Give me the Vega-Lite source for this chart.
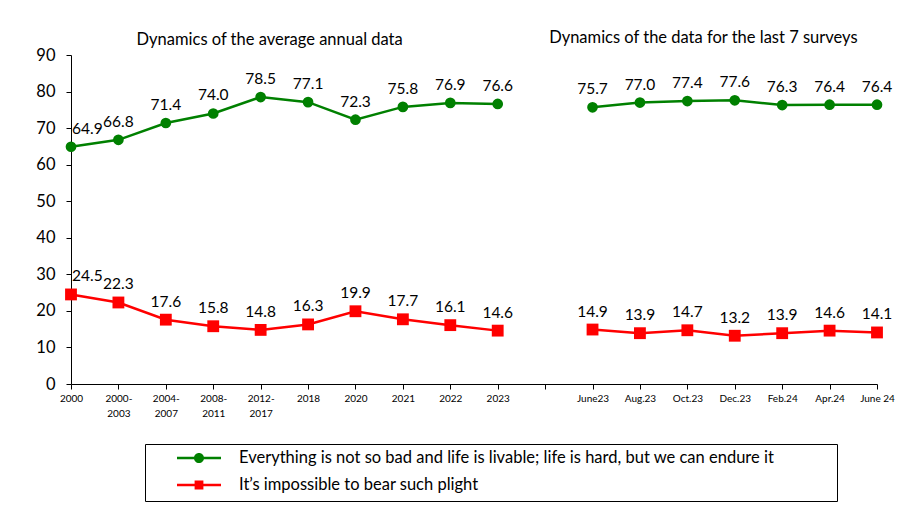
{
  "$schema": "https://vega.github.io/schema/vega-lite/v6.json",
  "autosize": {"type": "none"},
  "width": 806,
  "height": 329,
  "padding": {"left": 71, "top": 55, "right": 26, "bottom": 121},
  "background": "white",
  "config": {
    "font": "Lato",
    "view": {"stroke": null},
    "axis": {"labelFont": "Lato", "labelColor": "black", "domainColor": "black", "tickColor": "black", "grid": false, "title": null},
    "legend": {
      "title": null,
      "orient": "none",
      "legendX": 74,
      "legendY": 389,
      "direction": "vertical",
      "strokeColor": "black",
      "fillColor": "white",
      "padding": 7,
      "symbolSize": 1936,
      "symbolOffset": 25,
      "labelOffset": 18,
      "clipHeight": 14,
      "rowPadding": 10,
      "symbolStrokeWidth": 0,
      "symbolOpacity": 1,
      "labelFont": "Lato",
      "labelFontSize": 16.5,
      "labelColor": "black",
      "labelLimit": 900
    }
  },
  "data": {
    "values": [
      {"cat": "2000", "series": "Everything is not so bad and life is livable; life is hard, but we can endure it", "value": 64.9, "segment": "annual"},
      {"cat": "2000-2003", "series": "Everything is not so bad and life is livable; life is hard, but we can endure it", "value": 66.8, "segment": "annual"},
      {"cat": "2004-2007", "series": "Everything is not so bad and life is livable; life is hard, but we can endure it", "value": 71.4, "segment": "annual"},
      {"cat": "2008-2011", "series": "Everything is not so bad and life is livable; life is hard, but we can endure it", "value": 74.0, "segment": "annual"},
      {"cat": "2012-2017", "series": "Everything is not so bad and life is livable; life is hard, but we can endure it", "value": 78.5, "segment": "annual"},
      {"cat": "2018", "series": "Everything is not so bad and life is livable; life is hard, but we can endure it", "value": 77.1, "segment": "annual"},
      {"cat": "2020", "series": "Everything is not so bad and life is livable; life is hard, but we can endure it", "value": 72.3, "segment": "annual"},
      {"cat": "2021", "series": "Everything is not so bad and life is livable; life is hard, but we can endure it", "value": 75.8, "segment": "annual"},
      {"cat": "2022", "series": "Everything is not so bad and life is livable; life is hard, but we can endure it", "value": 76.9, "segment": "annual"},
      {"cat": "2023", "series": "Everything is not so bad and life is livable; life is hard, but we can endure it", "value": 76.6, "segment": "annual"},
      {"cat": "June23", "series": "Everything is not so bad and life is livable; life is hard, but we can endure it", "value": 75.7, "segment": "surveys"},
      {"cat": "Aug.23", "series": "Everything is not so bad and life is livable; life is hard, but we can endure it", "value": 77.0, "segment": "surveys"},
      {"cat": "Oct.23", "series": "Everything is not so bad and life is livable; life is hard, but we can endure it", "value": 77.4, "segment": "surveys"},
      {"cat": "Dec.23", "series": "Everything is not so bad and life is livable; life is hard, but we can endure it", "value": 77.6, "segment": "surveys"},
      {"cat": "Feb.24", "series": "Everything is not so bad and life is livable; life is hard, but we can endure it", "value": 76.3, "segment": "surveys"},
      {"cat": "Apr.24", "series": "Everything is not so bad and life is livable; life is hard, but we can endure it", "value": 76.4, "segment": "surveys"},
      {"cat": "June 24", "series": "Everything is not so bad and life is livable; life is hard, but we can endure it", "value": 76.4, "segment": "surveys"},
      {"cat": "2000", "series": "It’s impossible to bear such plight", "value": 24.5, "segment": "annual"},
      {"cat": "2000-2003", "series": "It’s impossible to bear such plight", "value": 22.3, "segment": "annual"},
      {"cat": "2004-2007", "series": "It’s impossible to bear such plight", "value": 17.6, "segment": "annual"},
      {"cat": "2008-2011", "series": "It’s impossible to bear such plight", "value": 15.8, "segment": "annual"},
      {"cat": "2012-2017", "series": "It’s impossible to bear such plight", "value": 14.8, "segment": "annual"},
      {"cat": "2018", "series": "It’s impossible to bear such plight", "value": 16.3, "segment": "annual"},
      {"cat": "2020", "series": "It’s impossible to bear such plight", "value": 19.9, "segment": "annual"},
      {"cat": "2021", "series": "It’s impossible to bear such plight", "value": 17.7, "segment": "annual"},
      {"cat": "2022", "series": "It’s impossible to bear such plight", "value": 16.1, "segment": "annual"},
      {"cat": "2023", "series": "It’s impossible to bear such plight", "value": 14.6, "segment": "annual"},
      {"cat": "June23", "series": "It’s impossible to bear such plight", "value": 14.9, "segment": "surveys"},
      {"cat": "Aug.23", "series": "It’s impossible to bear such plight", "value": 13.9, "segment": "surveys"},
      {"cat": "Oct.23", "series": "It’s impossible to bear such plight", "value": 14.7, "segment": "surveys"},
      {"cat": "Dec.23", "series": "It’s impossible to bear such plight", "value": 13.2, "segment": "surveys"},
      {"cat": "Feb.24", "series": "It’s impossible to bear such plight", "value": 13.9, "segment": "surveys"},
      {"cat": "Apr.24", "series": "It’s impossible to bear such plight", "value": 14.6, "segment": "surveys"},
      {"cat": "June 24", "series": "It’s impossible to bear such plight", "value": 14.1, "segment": "surveys"}
    ]
  },
  "encoding": {
    "x": {
      "field": "cat",
      "type": "ordinal",
      "sort": null,
      "scale": {
        "type": "point",
        "padding": 0,
        "domain": ["2000", "2000-2003", "2004-2007", "2008-2011", "2012-2017", "2018", "2020", "2021", "2022", "2023", "gap", "June23", "Aug.23", "Oct.23", "Dec.23", "Feb.24", "Apr.24", "June 24"]
      },
      "axis": {
        "labelAngle": 0,
        "labelFontSize": 10,
        "labelPadding": 4,
        "tickSize": 5,
        "labelLineHeight": 15,
        "domainWidth": 1,
        "labelExpr": "datum.value == 'gap' ? '' : (indexof(datum.value, '-') > 0 ? [slice(datum.value, 0, 5), slice(datum.value, 5)] : datum.value)"
      }
    },
    "y": {
      "field": "value",
      "type": "quantitative",
      "scale": {"domain": [0, 90], "nice": false},
      "axis": {"values": [0, 10, 20, 30, 40, 50, 60, 70, 80, 90], "labelFontSize": 16.5, "tickSize": 5, "labelPadding": 11}
    }
  },
  "layer": [
    {
      "mark": {"type": "line", "strokeWidth": 2.5},
      "encoding": {
        "color": {
          "field": "series",
          "type": "nominal",
          "scale": {
            "domain": ["Everything is not so bad and life is livable; life is hard, but we can endure it", "It’s impossible to bear such plight"],
            "range": ["#008000", "#FF0000"]
          },
          "legend": {"labelExpr": "datum.label + '\u00a0\u00a0\u00a0\u00a0\u00a0\u00a0\u00a0\u00a0\u00a0\u00a0\u00a0\u00a0\u00a0\u2060'"}
        },
        "detail": {"field": "segment"}
      }
    },
    {
      "transform": [{"filter": "indexof(datum.series, 'Everything') == 0"}],
      "mark": {"type": "point", "shape": "circle", "filled": true, "size": 115, "opacity": 1},
      "encoding": {"color": {"field": "series", "type": "nominal"}}
    },
    {
      "transform": [{"filter": "indexof(datum.series, 'impossible') > 0"}],
      "mark": {"type": "point", "shape": "square", "filled": true, "size": 140, "opacity": 1},
      "encoding": {"color": {"field": "series", "type": "nominal"}}
    },
    {
      "transform": [{"filter": "datum.cat != '2000'"}],
      "mark": {"type": "text", "align": "center", "baseline": "middle", "dy": -18, "fontSize": 15.5, "color": "black"},
      "encoding": {"text": {"field": "value", "type": "quantitative", "format": ".1f"}}
    },
    {
      "transform": [{"filter": "datum.cat == '2000'"}],
      "mark": {"type": "text", "align": "left", "baseline": "middle", "dx": 1, "dy": -18, "fontSize": 15.5, "color": "black"},
      "encoding": {"text": {"field": "value", "type": "quantitative", "format": ".1f"}}
    },
    {
      "transform": [{"filter": "datum.cat == '2012-2017' && indexof(datum.series, 'Everything') == 0"}],
      "mark": {"type": "text", "align": "center", "baseline": "middle", "fontSize": 16.5, "color": "black", "dx": 9, "text": "Dynamics of the average annual data"},
      "encoding": {
        "y": {"datum": 94.1, "type": "quantitative"}
      }
    },
    {
      "transform": [{"filter": "datum.cat == 'Oct.23' && indexof(datum.series, 'Everything') == 0"}],
      "mark": {"type": "text", "align": "center", "baseline": "middle", "fontSize": 16.5, "color": "black", "dx": 16, "text": "Dynamics of the data for the last 7 surveys"},
      "encoding": {
        "y": {"datum": 94.6, "type": "quantitative"}
      }
    },
    {
      "transform": [{"filter": "datum.cat == '2000'"}],
      "mark": {"type": "point", "filled": true, "opacity": 0},
      "encoding": {
        "color": {"field": "series", "type": "nominal"},
        "shape": {
          "field": "series",
          "type": "nominal",
          "scale": {
            "domain": ["Everything is not so bad and life is livable; life is hard, but we can endure it", "It’s impossible to bear such plight"],
            "range": [
              "M-1,-0.057H1V0.057H-1Z M0.23,0A0.23,0.23 0 1 1 -0.23,0A0.23,0.23 0 1 1 0.23,0Z",
              "M-1,-0.057H1V0.057H-1Z M-0.2,-0.2H0.2V0.2H-0.2Z"
            ]
          },
          "legend": {"labelExpr": "datum.label + '\u00a0\u00a0\u00a0\u00a0\u00a0\u00a0\u00a0\u00a0\u00a0\u00a0\u00a0\u00a0\u00a0\u2060'"}
        }
      }
    }
  ]
}
